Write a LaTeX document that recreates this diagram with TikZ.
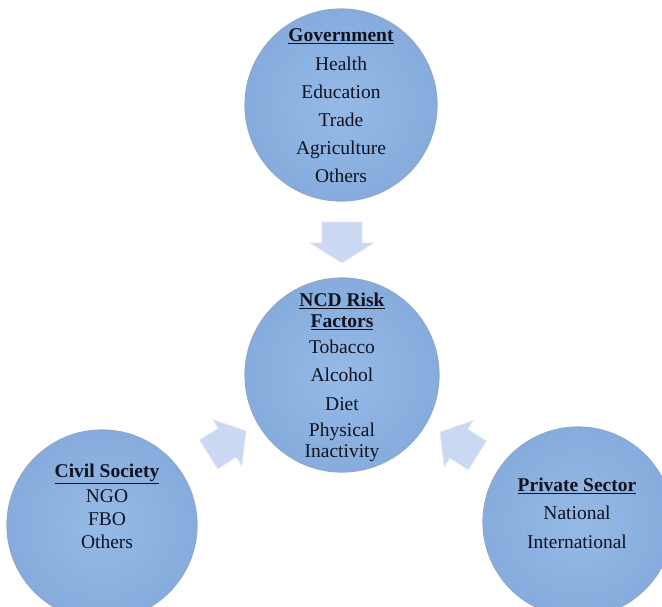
\documentclass[tikz,border=0pt]{standalone}
\usepackage{fontspec}
\setmainfont{Liberation Serif}
\definecolor{bubblein}{HTML}{95BAE7}
\definecolor{bubbleout}{HTML}{86ACDD}
\definecolor{bubbleedge}{HTML}{8FA9CB}
\definecolor{arrowfill}{HTML}{CBD8F1}
\definecolor{arrowedge}{HTML}{DDE6F6}
\definecolor{inktext}{HTML}{10131F}
\begin{document}
\begin{tikzpicture}[x=1pt,y=1pt,
  bubble/.style={circle, minimum size=#1, inner sep=0pt,
    draw=bubbleedge, line width=1.2pt,
    inner color=bubblein, outer color=bubbleout},
  label/.style={align=center, text=inktext, inner sep=0pt,
    font=\fontsize{19.5}{#1}\selectfont},
  blockarrow/.style={fill=arrowfill, draw=arrowedge, line width=0.8pt}
]
\useasboundingbox (0,0) rectangle (662,-606);
\clip (0,0) rectangle (662,-606);

% circles
\node[bubble=192pt] (gov)  at (341,-105) {};
\node[bubble=194pt] (ncd)  at (342,-375) {};
\node[bubble=190pt] (civ)  at (102,-525) {};
\node[bubble=190pt] (priv) at (578,-522) {};

% texts
\node[label=28.2pt] (govtext) at (341,-106)
  {\underline{\textbf{Government}}\\Health\\Education\\Trade\\Agriculture\\Others};
\node[label=21pt] (ncdtext) at (342,-377)
  {\underline{\textbf{NCD Risk}}\\\underline{\textbf{Factors}}\\[5pt]Tobacco\\[7pt]Alcohol\\[8pt]Diet\\[5pt]Physical\\Inactivity};
\node[label=23pt] (civtext) at (107,-506)
  {\underline{\textbf{Civil Society}}\\[2pt]NGO\\FBO\\Others};
\node[label=28.5pt] (privtext) at (577,-513)
  {\underline{\textbf{Private Sector}}\\National\\International};

% block arrows: tip at origin, pointing along +x
\coordinate (downtip)  at (342,-263);
\coordinate (lefttip)  at (246,-431);
\coordinate (righttip) at (440,-432);

\draw[blockarrow, shift={(downtip)}, rotate=-90]
  (0,0) -- (-20,31.5) -- (-20,20) -- (-41,20) -- (-41,-20) -- (-20,-20) -- (-20,-31.5) -- cycle;
\draw[blockarrow, shift={(lefttip)}, rotate=32]
  (0,0) -- (-22,27) -- (-22,17) -- (-44,17) -- (-44,-17) -- (-22,-17) -- (-22,-27) -- cycle;
\draw[blockarrow, shift={(righttip)}, rotate=148]
  (0,0) -- (-22,27) -- (-22,17) -- (-44,17) -- (-44,-17) -- (-22,-17) -- (-22,-27) -- cycle;
\end{tikzpicture}
\end{document}
